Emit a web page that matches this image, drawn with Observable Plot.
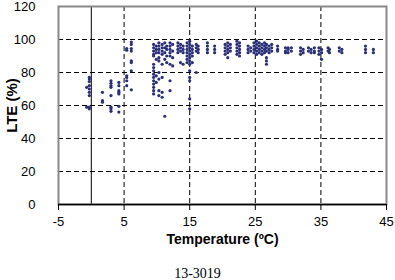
<!DOCTYPE html>
<html>
<head>
<meta charset="utf-8">
<script src="https://cdn.jsdelivr.net/npm/d3@7"></script>
<script src="https://cdn.jsdelivr.net/npm/@observablehq/plot@0.6"></script>
<style>
  body { margin: 0; background: #fff; }
  #caption { width: 395px; text-align: center; font-family: "Liberation Serif", "Times New Roman", serif; font-size: 14px; line-height: 16px; padding-top: 8px; }
</style>
</head>
<body>
<div id="chart"></div>
<div id="caption">13-3019</div>
<script>
// Temperature columns (ºC) and the LTE (%) readings observed at each
const colTemp = [-0.7, -0.3, 1.7, 3.0, 4.2, 5.4, 6.1,
  9.5, 9.9, 10.3, 10.8, 11.2, 11.5, 12.0, 12.4, 13.2, 13.6, 14.0, 14.6, 15.0, 15.4, 16.0, 16.3,
  17.7, 18.8, 20.4, 20.8, 21.2, 22.2, 22.6, 23.9, 24.3, 24.8, 25.2, 25.6, 26.0, 26.4, 26.7, 27.1, 27.5,
  28.4, 29.6, 30.0, 30.5, 31.9, 32.3, 33.1, 33.5, 34.0, 34.7, 35.1, 36.1, 36.3, 37.8, 38.2, 41.8, 43.0];
const colLte = [
  [71, 59],
  [77, 76, 74.5, 72, 70, 68, 66, 59, 58],
  [68, 63, 62],
  [75, 73.5, 72, 71, 66, 59, 58, 56.5],
  [74, 72, 69, 68, 67, 59.5, 56],
  [94.5, 93.5, 78, 77, 75, 72],
  [98.5, 97, 94.5, 93, 87, 86, 81, 69.5],
  [97, 95, 93, 91, 90, 85, 83, 81, 79, 77, 75, 73, 71, 69, 67],
  [96, 94, 92, 88, 78, 74],
  [98, 96, 94, 92, 89, 87, 80, 76, 69, 66],
  [97, 95, 93, 91, 85, 77, 68, 65],
  [98, 95, 92, 88, 53.5],
  [96, 94, 90, 86],
  [98, 96, 94, 92, 90, 85, 75, 69],
  [97, 93, 89, 84],
  [98, 96, 94, 92],
  [97, 95, 93, 86],
  [96, 94, 92, 85],
  [98, 96, 94, 92, 90, 88, 86],
  [99, 97, 95, 93, 91, 89, 87, 85, 81, 77, 75, 64, 58],
  [96, 94, 92, 90, 86],
  [97, 95, 93, 80],
  [96, 94, 92],
  [98, 96, 94, 92],
  [96, 94, 92],
  [97, 95, 93, 91],
  [98, 96, 94, 92, 89],
  [97, 95, 93],
  [99, 97, 95, 93, 91],
  [98, 96, 94, 92, 90],
  [96, 94, 92],
  [95, 93],
  [98, 96, 94, 92],
  [99, 97, 95, 93, 91],
  [98, 96, 94, 92],
  [97, 95, 93, 91],
  [98, 96, 94, 92],
  [97, 95, 93, 89, 87, 85],
  [96, 94, 92],
  [97, 95, 93],
  [96, 94, 93],
  [95, 93, 92],
  [95, 94, 92],
  [95, 93],
  [95, 93, 91],
  [94, 92],
  [95, 93],
  [94, 92],
  [95, 93, 92],
  [95, 93, 91],
  [94, 92, 88],
  [95, 93],
  [94, 92],
  [95, 93],
  [94, 92],
  [96, 94, 92],
  [94, 92]
];
const xTicks = [-5, 5, 15, 25, 35, 45];
const xGrid = [5, 15, 25, 35];
const yTicks = [0, 20, 40, 60, 80, 100, 120];
const yGrid = [20, 40, 60, 80, 100];

const points = colTemp.flatMap((t, i) => colLte[i].map(v => ({temp: t, lte: v})));

const chart = Plot.plot({
  width: 395,
  height: 258,
  marginTop: 6,
  marginBottom: 54,
  marginLeft: 58,
  marginRight: 9,
  style: {fontFamily: "Arial, 'Liberation Sans', sans-serif", fontSize: "13px", color: "#000", background: "#fff"},
  x: {domain: [-5, 45]},
  y: {domain: [0, 120]},
  marks: [
    Plot.gridY(yGrid, {stroke: "#000", strokeOpacity: 1, strokeDasharray: "5,3"}),
    Plot.gridX(xGrid, {stroke: "#000", strokeOpacity: 1, strokeDasharray: "5,3"}),
    Plot.ruleX([0], {stroke: "#000", strokeWidth: 1}),
    Plot.frame({stroke: "#888", strokeWidth: 2}),
    Plot.ruleY([0], {stroke: "#000", strokeWidth: 1.5}),
    Plot.dot(points, {x: "temp", y: "lte", r: 1.6, fill: "#2b2f78", stroke: null}),
    Plot.axisX(xTicks, {tickSize: 6, tickPadding: 6, label: null, fontSize: 13, tickFormat: d => String(d)}),
    Plot.axisY(yTicks, {tickSize: 0, tickPadding: 23, label: null, fontSize: 13, tickFormat: d => String(d)}),
    Plot.text(["Temperature (ºC)"], {frameAnchor: "bottom", dy: 39, fontWeight: "bold", fontSize: 14}),
    Plot.text(["LTE (%)"], {frameAnchor: "left", dx: -46, rotate: -90, textAnchor: "middle", fontWeight: "bold", fontSize: 15})
  ]
});
document.getElementById("chart").appendChild(chart);
</script>
</body>
</html>
